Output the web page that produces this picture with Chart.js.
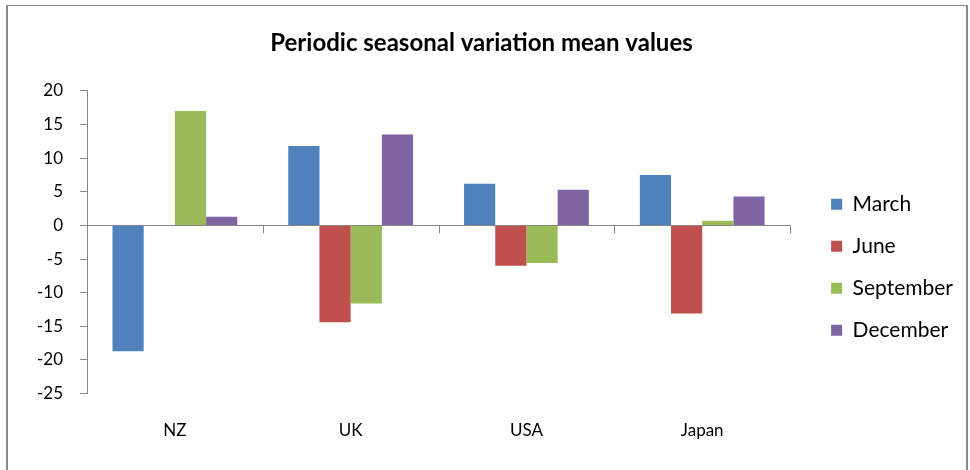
<!DOCTYPE html>
<html>
<head>
<meta charset="utf-8">
<title>Periodic seasonal variation mean values</title>
<script src="https://cdn.jsdelivr.net/npm/chart.js"></script>
<style>
  body { margin: 0; background: #fff; }
  #wrap { position: relative; width: 970px; height: 470px; overflow: hidden; }
  #frame { position: absolute; left: 6px; top: 5px; width: 958px; height: 500px;
           border: 2px solid #8a8a8a; border-top-width: 1px; pointer-events: none; }
</style>
</head>
<body>
<div id="wrap">
  <canvas id="chart" width="970" height="470"></canvas>
  <div id="frame"></div>
</div>
<script>
// chart data
const countries = ['NZ', 'UK', 'USA', 'Japan'];
const march = [-18.7, 11.8, 6.2, 7.5];
const june = [0, -14.4, -6.0, -13.1];
const september = [17.0, -11.6, -5.6, 0.7];
const december = [1.3, 13.5, 5.3, 4.3];
const yMin = -25, yMax = 20, yStep = 5;

const FONT = 'Lato, "Open Sans", sans-serif';
const AXIS_GREY = '#868686';

// little tick marks hanging from the zero line between categories
const categoryTicks = {
  id: 'categoryTicks',
  afterDatasetsDraw(chart) {
    const xs = chart.scales.x, ys = chart.scales.y;
    const y0 = ys.getPixelForValue(0);
    const n = xs.ticks.length;
    const ctx = chart.ctx;
    ctx.save();
    ctx.strokeStyle = AXIS_GREY;
    ctx.lineWidth = 1;
    for (let i = 0; i <= n; i++) {
      const px = Math.round(xs.left + i * xs.width / n) + 0.5;
      ctx.beginPath();
      ctx.moveTo(px, y0);
      ctx.lineTo(px, y0 + 8);
      ctx.stroke();
    }
    ctx.restore();
  }
};

const bar = (label, data, color) => ({ label, data, backgroundColor: color, borderWidth: 0 });

new Chart(document.getElementById('chart'), {
  type: 'bar',
  data: {
    labels: countries,
    datasets: [
      bar('March', march, '#4F81BD'),
      bar('June', june, '#C0504D'),
      bar('September', september, '#9BBB59'),
      bar('December', december, '#8064A2')
    ]
  },
  options: {
    responsive: false,
    animation: false,
    categoryPercentage: 0.71,
    barPercentage: 1.0,
    layout: { padding: { left: 0, right: 7, top: 0, bottom: 10 } },
    plugins: {
      title: {
        display: true,
        text: 'Periodic seasonal variation mean values',
        color: '#000',
        font: { family: FONT, size: 24, weight: 'bold' },
        padding: { top: 29, bottom: 33 }
      },
      legend: {
        position: 'right',
        align: 'start',
        fullSize: false,
        // empty title only pushes the entries down
        title: { display: true, text: '', font: { size: 10, lineHeight: 1 }, padding: { top: 0, bottom: 72 } },
        labels: {
          color: '#000',
          font: { family: FONT, size: 21 },
          boxWidth: 11,
          boxHeight: 11,
          padding: 21
        }
      },
      tooltip: { enabled: false }
    },
    scales: {
      x: {
        grid: { display: false },
        border: { display: false },
        ticks: { color: '#000', font: { family: FONT, size: 17 }, padding: 19 }
      },
      y: {
        min: yMin,
        max: yMax,
        ticks: { stepSize: yStep, color: '#000', font: { family: FONT, size: 17 }, padding: 17 },
        grid: {
          color: c => (c.tick && c.tick.value === 0 ? AXIS_GREY : 'transparent'),
          tickColor: AXIS_GREY,
          tickLength: 7
        },
        border: { display: true, color: AXIS_GREY },
        afterFit(s) { s.width = 87; }
      },
      // spacer between plot and legend
      pad: {
        position: 'right',
        display: true,
        grid: { display: false },
        border: { display: false },
        ticks: { display: false },
        afterFit(s) { s.width = 20; }
      }
    }
  },
  plugins: [categoryTicks]
});
</script>
</body>
</html>
